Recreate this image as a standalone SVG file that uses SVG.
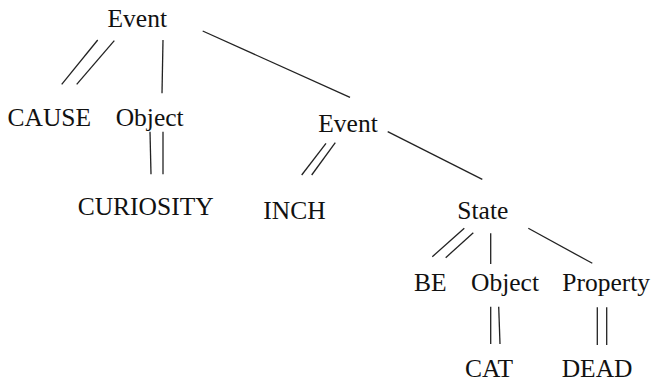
<svg xmlns="http://www.w3.org/2000/svg" width="655" height="382" viewBox="0 0 655 382">
<style>
.t { font-family: 'Liberation Serif', 'Times New Roman', Tinos, 'DejaVu Serif', serif; font-size: 25.5px; fill: #111; }
line { stroke: #222; stroke-width: 1.3; }
</style>
<rect width="655" height="382" fill="#fff"/>
<g id="connectors">
  <line x1="97.7" y1="40" x2="61.7" y2="84.3"/>
  <line x1="114.3" y1="40.7" x2="76.7" y2="84.3"/>
  <line x1="163" y1="40" x2="162" y2="93.3"/>
  <line x1="202.7" y1="31" x2="350" y2="97.3"/>
  <line x1="150" y1="131.7" x2="151" y2="174.3"/>
  <line x1="163" y1="131.7" x2="163" y2="174.3"/>
  <line x1="326" y1="143.3" x2="301.7" y2="175"/>
  <line x1="335.3" y1="142.7" x2="311.7" y2="175"/>
  <line x1="387.7" y1="131.7" x2="482.3" y2="179.3"/>
  <line x1="464.3" y1="228.3" x2="432.3" y2="256.7"/>
  <line x1="473.3" y1="232.7" x2="445.7" y2="257.7"/>
  <line x1="490.7" y1="233.3" x2="490.7" y2="264"/>
  <line x1="528.3" y1="228.3" x2="592.3" y2="263.3"/>
  <line x1="490.7" y1="306.7" x2="490.7" y2="344"/>
  <line x1="498.7" y1="306.7" x2="500" y2="344"/>
  <line x1="597.3" y1="307.3" x2="597.3" y2="345"/>
  <line x1="606.7" y1="307.3" x2="606.7" y2="345"/>
</g>
<g id="event1"><text class="t" x="107.5" y="27">Event</text></g>
<g id="cause"><text class="t" x="7.5" y="125.7">CAUSE</text></g>
<g id="object1"><text class="t" x="115.7" y="125.7">Object</text></g>
<g id="curiosity"><text class="t" x="77.7" y="215">CURIOSITY</text></g>
<g id="event2"><text class="t" x="318.3" y="131.7">Event</text></g>
<g id="inch"><text class="t" x="263.3" y="219">INCH</text></g>
<g id="state"><text class="t" x="457.3" y="218.5">State</text></g>
<g id="be"><text class="t" x="414" y="290.5">BE</text></g>
<g id="object2"><text class="t" x="471" y="290.5">Object</text></g>
<g id="property"><text class="t" x="562.3" y="290.5">Property</text></g>
<g id="cat"><text class="t" x="465" y="376.5">CAT</text></g>
<g id="dead"><text class="t" x="561.7" y="376.5">DEAD</text></g>
</svg>
